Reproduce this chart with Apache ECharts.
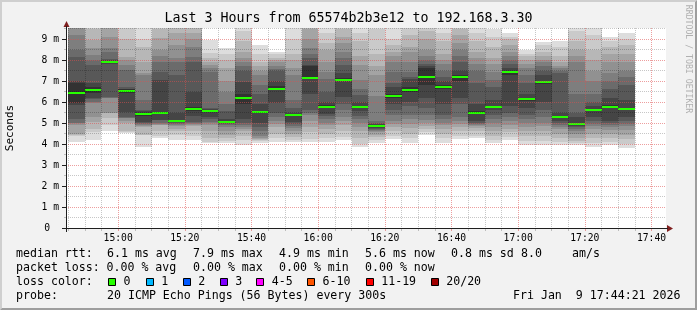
<!DOCTYPE html>
<html><head><meta charset="utf-8">
<script src="https://cdn.jsdelivr.net/npm/echarts@6/dist/echarts.min.js"></script>
<style>html,body{margin:0;padding:0;background:#f2f2f2}#c{width:697px;height:310px}</style>
</head><body><div id="c"></div>
<script>
// ---------- data ----------
const titleText = 'Last 3 Hours from 65574b2b3e12 to 192.168.3.30';
const axisStart = '14:44:21';
const axisEnd = '17:44:21';
const yMax = 9.524; // ms at top of plot
const columnStarts = ['14:45','14:50','14:55','15:00','15:05','15:10','15:15','15:20','15:25','15:30','15:35','15:40',
  '15:45','15:50','15:55','16:00','16:05','16:10','16:15','16:20','16:25','16:30','16:35','16:40','16:45','16:50',
  '16:55','17:00','17:05','17:10','17:15','17:20','17:25','17:30'];
const columnMinutes = 5;
const medianMs = [6.44, 6.59, 7.92, 6.54, 5.43, 5.49, 5.11, 5.68, 5.59, 5.05, 6.2, 5.52, 6.63, 5.38, 7.16, 5.76, 7.05,
  5.78, 4.87, 6.3, 6.59, 7.2, 6.73, 7.2, 5.49, 5.78, 7.41, 6.13, 6.94, 5.3, 4.95, 5.6, 5.78, 5.65];
// 20 sorted ping times (ms) per 5-minute step
const pingMs = [
  [4.11,4.4,4.45,4.5,4.9,4.98,5.0,5.2,5.85,5.94,6.89,7.0,8.16,8.5,9.2,9.6,9.8,10.0,10.3,10.5],
  [4.19,4.59,4.7,5.06,5.3,5.94,6.0,6.12,6.2,6.45,6.7,6.89,7.76,8.0,8.24,8.55,8.95,9.5,9.7,10.5],
  [4.62,4.9,5.22,5.46,5.5,6.17,6.2,6.25,7.8,7.88,7.96,8.0,8.05,8.4,8.55,9.1,9.6,9.8,10.0,10.5],
  [4.51,4.59,4.6,4.98,5.1,5.22,5.25,5.3,5.54,6.45,6.6,6.62,6.7,7.52,7.76,8.0,8.16,9.0,9.8,10.5],
  [3.87,4.43,4.45,4.82,4.88,4.92,4.95,5.0,5.05,5.35,5.5,5.55,5.6,6.1,7.29,7.4,7.92,8.6,9.0,9.7],
  [4.27,4.4,4.6,4.9,4.92,4.95,5.0,5.13,5.15,5.45,5.5,7.05,7.44,7.92,8.2,8.48,9.03,9.5,9.8,10.5],
  [4.19,4.43,4.6,4.7,4.85,4.9,4.95,5.0,5.05,5.1,5.15,5.5,7.3,7.9,8.1,8.7,9.3,9.6,9.8,10.5],
  [4.19,4.4,4.6,4.85,4.9,4.95,5.0,5.05,5.35,5.55,5.75,6.5,7.92,8.16,8.6,9.0,9.3,9.6,9.8,10.5],
  [4.03,4.1,4.3,4.6,4.9,5.0,5.06,5.2,5.3,5.55,5.62,5.65,5.7,7.44,7.6,7.75,7.92,8.1,8.32,8.95],
  [4.05,4.15,4.3,4.45,4.6,4.8,4.9,4.95,5.0,5.03,5.08,5.2,5.55,5.9,6.5,7.0,7.6,8.0,8.3,8.57],
  [3.95,4.2,4.4,4.6,4.7,4.8,4.9,5.0,5.2,5.9,6.4,6.95,7.5,7.7,7.9,8.1,8.4,8.9,9.4,9.9],
  [4.05,4.15,4.2,4.25,4.3,4.4,4.6,4.8,5.0,5.48,5.56,5.9,6.4,6.8,7.3,7.5,7.7,7.92,8.3,8.7],
  [4.08,4.3,4.5,4.8,4.95,5.1,5.3,5.5,5.95,6.55,6.75,7.0,7.5,7.55,7.7,7.9,8.0,8.1,8.3,8.4],
  [4.11,4.2,4.35,4.5,4.6,4.75,4.85,4.95,5.05,5.35,5.42,5.5,5.7,6.1,7.3,7.6,8.0,8.3,9.0,9.7],
  [4.1,4.25,4.55,4.8,5.1,5.4,5.5,5.6,6.4,7.1,7.7,7.75,8.1,8.3,8.55,9.0,9.5,9.7,9.9,10.5],
  [4.1,4.3,4.5,4.7,4.9,5.0,5.2,5.35,5.45,5.7,5.85,6.0,6.5,7.1,7.44,7.9,8.5,8.8,9.3,9.7],
  [4.19,4.35,4.6,4.9,5.1,5.3,5.6,5.9,6.25,7.0,7.15,7.4,7.76,8.1,8.4,8.8,9.1,9.5,9.8,10.5],
  [3.85,4.0,4.3,4.6,4.8,5.0,5.2,5.35,5.55,5.75,5.82,6.0,6.33,6.6,7.05,7.76,8.2,8.9,9.3,9.8],
  [4.05,4.2,4.35,4.45,4.55,4.6,4.65,4.7,4.75,4.85,4.9,4.95,5.0,5.1,6.3,7.3,7.7,8.3,9.5,9.8],
  [4.25,4.4,4.6,4.8,4.95,5.1,5.4,5.6,5.9,6.2,6.4,6.7,6.9,7.44,7.9,8.2,8.4,8.7,9.0,9.6],
  [4.05,4.3,4.5,4.75,4.95,5.2,5.4,5.8,6.0,6.5,6.7,7.1,7.2,7.44,7.9,8.4,8.6,9.2,9.6,10.0],
  [4.43,4.55,4.7,4.85,5.0,5.15,5.4,5.7,6.2,6.8,7.6,7.7,7.8,8.0,8.2,8.5,9.0,9.4,9.8,10.5],
  [4.05,4.3,4.5,4.7,4.9,5.0,5.2,5.4,5.9,6.6,6.8,7.0,7.2,7.5,7.8,8.0,8.3,8.9,9.3,9.6],
  [4.25,4.4,4.6,4.8,4.95,5.1,5.3,5.9,6.2,7.0,7.3,7.5,7.9,8.2,8.5,8.8,9.2,9.5,9.8,10.5],
  [4.3,4.4,4.6,4.75,4.85,4.9,4.95,5.0,5.1,5.45,5.55,5.9,6.9,7.5,7.8,8.1,8.4,8.9,9.3,9.7],
  [4.05,4.2,4.4,4.6,4.8,5.0,5.2,5.4,5.6,5.75,5.82,6.1,6.7,7.05,7.44,7.8,8.1,8.6,9.1,9.5],
  [4.2,4.35,4.55,4.7,4.9,5.1,5.3,5.5,5.8,7.3,7.5,7.6,7.8,8.0,8.2,8.4,8.7,9.0,9.1,9.3],
  [3.95,4.15,4.4,4.6,4.8,5.0,5.2,5.4,5.7,6.05,6.2,6.4,6.9,7.3,7.6,7.8,8.0,8.2,8.3,8.48],
  [3.95,4.15,4.4,4.6,4.85,5.0,5.3,5.6,6.0,6.85,7.0,7.3,7.5,7.7,7.9,8.0,8.2,8.4,8.7,8.85],
  [3.95,4.1,4.3,4.5,4.7,4.8,4.9,5.0,5.1,5.25,5.35,5.5,7.4,7.5,7.6,7.7,7.9,8.2,8.6,8.9],
  [3.95,4.05,4.15,4.3,4.5,4.6,4.7,4.8,4.85,4.9,5.0,5.3,5.5,6.4,7.9,8.2,8.5,8.9,9.4,9.7],
  [3.85,4.05,4.3,4.5,4.7,4.85,4.95,5.1,5.3,5.55,5.65,5.8,6.0,6.4,7.0,7.5,8.0,8.5,9.2,9.6],
  [3.95,4.1,4.3,4.5,4.65,4.8,4.9,5.0,5.1,5.7,5.85,6.2,6.6,7.0,7.4,7.9,8.3,8.6,8.9,9.1],
  [3.82,4.0,4.25,4.45,4.65,4.85,4.95,5.1,5.3,5.6,5.7,6.1,6.8,7.2,7.5,7.9,8.3,8.7,9.0,9.3]
];
const xLabels = ['15:00','15:20','15:40','16:00','16:20','16:40','17:00','17:20','17:40'];
const yLabels = [0,1,2,3,4,5,6,7,8,9];
const smokeShades = ['#dddddd','#cacaca','#b7b7b7','#a4a4a4','#919191','#7e7e7e','#6b6b6b','#585858','#454545','#323232'];
const medianColor = '#26ff00';
const lossLabels = ['0','1','2','3','4-5','6-10','11-19','20/20'];
const lossColors = ['#26ff00','#00b8ff','#0059ff','#7e00ff','#ff00ff','#ff5500','#ff0000','#a10000'];
const legendLabels = ['median rtt:', 'packet loss:', 'loss color:', 'probe:'];
const rttItems = ['6.1 ms avg', '7.9 ms max', '4.9 ms min', '5.6 ms now', '0.8 ms sd', '8.0', 'am/s'];
const lossItems = ['0.00 % avg', '0.00 % max', '0.00 % min', '0.00 % now'];
const probeText = '20 ICMP Echo Pings (56 Bytes) every 300s';
const dateText = 'Fri Jan  9 17:44:21 2026';

// ---------- helpers / layout ----------
const FONT = '"DejaVu Sans Mono", monospace';
const toMin = s => { const p = s.split(':').map(Number); return p[0]*60 + p[1] + (p[2]||0)/60; };
const fmt = v => { const h = Math.floor(v/60), m = Math.round(v - h*60); return h + ':' + String(m).padStart(2,'0'); };
const xMin = toMin(axisStart), xMax = toMin(axisEnd);
const majorX = xLabels.map(toMin);
const minorX = [];
for (let t = toMin(columnStarts[0]); t <= xMax; t += columnMinutes) if (!majorX.includes(t)) minorX.push(t);
const majorY = yLabels.filter(v => v > 0);
const minorY = yLabels.map(v => v + 0.5).filter(v => v < yMax);

const GRID_MINOR = 'rgba(0,0,0,0.22)';
const GRID_MAJOR = 'rgba(222,79,79,0.55)';

function colPx(api, i) {
  const s = toMin(columnStarts[i]);
  const a = api.coord([Math.max(s, xMin), 0])[0];
  const b = api.coord([Math.min(s + columnMinutes, xMax), 0])[0];
  return [Math.round(a), Math.round(b)];
}
function renderSmoke(params, api) {
  const i = api.value(1);
  const [x0, x1] = colPx(api, i);
  const p = pingMs[i];
  const children = [];
  for (let k = 0; k < 10; k++) {
    const lo = Math.min(p[k], yMax), hi = Math.min(p[19 - k], yMax);
    const yl = Math.round(api.coord([xMin, lo])[1]);
    const yh = Math.round(api.coord([xMin, hi])[1]);
    children.push({ type: 'rect', shape: { x: x0, y: yh, width: x1 - x0, height: yl - yh },
      style: { fill: smokeShades[k] } });
  }
  return { type: 'group', children };
}
function renderMedian(params, api) {
  const i = api.value(1);
  const [x0, x1] = colPx(api, i);
  const y = Math.round(api.coord([xMin, medianMs[i]])[1]);
  return { type: 'rect', shape: { x: x0, y: y - 1, width: x1 - x0, height: 2 }, style: { fill: medianColor } };
}

// ---------- graphics (frame, text) ----------
const graphics = [];
graphics.push({ type: 'polygon', silent: true, shape: { points: [[0,0],[697,0],[695,2],[2,2],[2,308],[0,310]] }, style: { fill: '#cfcfcf' } });
graphics.push({ type: 'polygon', silent: true, shape: { points: [[697,0],[697,310],[0,310],[2,308],[695,308],[695,2]] }, style: { fill: '#9e9e9e' } });
graphics.push({ type: 'polygon', silent: true, z: 20, shape: { points: [[667,225],[673,228.5],[667,232]] }, style: { fill: '#801f1f' } });
graphics.push({ type: 'polygon', silent: true, z: 20, shape: { points: [[63.5,27],[66.5,21],[69.5,27]] }, style: { fill: '#801f1f' } });
graphics.push({ type: 'line', silent: true, z: 20, shape: { x1: 66.5, y1: 232, x2: 66.5, y2: 26 }, style: { stroke: '#1f1f1f', lineWidth: 1 } });
graphics.push({ type: 'line', silent: true, z: 20, shape: { x1: 62, y1: 228.5, x2: 668, y2: 228.5 }, style: { stroke: '#1f1f1f', lineWidth: 1 } });
graphics.push({ type: 'text', silent: true, x: 10, y: 128, rotation: Math.PI/2,
  style: { text: 'Seconds', font: '11px ' + FONT, fill: '#000', align: 'center', verticalAlign: 'middle' } });
graphics.push({ type: 'text', silent: true, x: 688, y: 59, rotation: -Math.PI/2,
  style: { text: 'RRDTOOL / TOBI OETIKER', font: '8.2px ' + FONT, fill: '#b0b0b0', align: 'center', verticalAlign: 'middle' } });

const rowY = [254.3, 268.3, 282.3, 296.3];
const LF = '11.6px ' + FONT;
const txt = (s, x, y, align) => ({ type: 'text', silent: true, x, y,
  style: { text: s, font: LF, fill: '#000', verticalAlign: 'middle', align: align || 'left' } });
legendLabels.forEach((s, j) => graphics.push(txt(s, 16, rowY[j])));
const rttX = [107, 193, 279, 365, 451, 521, 572];
rttItems.forEach((s, j) => graphics.push(txt(s, rttX[j], rowY[0])));
const lossX = [106.5, 193, 279, 365];
lossItems.forEach((s, j) => graphics.push(txt(s, lossX[j], rowY[1])));
graphics.push(txt(probeText, 107, rowY[3]));
graphics.push(txt(dateText, 680.5, rowY[3], 'right'));
const squareX = [108, 145.7, 182.7, 219.7, 256.3, 307, 365.7, 430.7];
lossLabels.forEach((lab, j) => {
  graphics.push({ type: 'rect', silent: true, shape: { x: Math.round(squareX[j]) + 0.5, y: 278.5, width: 7, height: 7 },
    style: { fill: lossColors[j], stroke: '#000', lineWidth: 1 } });
  graphics.push(txt(lab, squareX[j] + 15.5, rowY[2]));
});

const hiddenAxisBase = { axisLine: { show: false }, axisLabel: { show: false } };

const option = {
  backgroundColor: '#f2f2f2',
  animation: false,
  title: { text: titleText, left: 'center', top: 12, padding: 0,
    textStyle: { fontFamily: FONT, fontSize: 13.3, fontWeight: 'normal', color: '#000' } },
  grid: { left: 66, top: 28, width: 600, height: 200, show: true, backgroundColor: '#ffffff', borderWidth: 0 },
  xAxis: [
    { type: 'value', min: xMin, max: xMax, position: 'bottom', z: 10,
      axisLine: { show: false }, axisTick: { show: false }, splitLine: { show: false },
      axisLabel: { customValues: majorX, formatter: fmt, margin: 5, fontFamily: FONT, fontSize: 9.7, color: '#000' } },
    Object.assign({ type: 'value', min: xMin, max: xMax, position: 'bottom', z: 9,
      axisTick: { show: true, customValues: minorX, length: 3, lineStyle: { color: GRID_MINOR } },
      splitLine: { show: true, lineStyle: { color: GRID_MINOR, width: 1, type: [1, 1] } } }, hiddenAxisBase),
    Object.assign({ type: 'value', min: xMin, max: xMax, position: 'bottom', z: 9,
      axisTick: { show: true, customValues: majorX, length: 3, lineStyle: { color: GRID_MAJOR } },
      splitLine: { show: true, lineStyle: { color: GRID_MAJOR, width: 1, type: [1, 1] } } }, hiddenAxisBase)
  ],
  yAxis: [
    { type: 'value', min: 0, max: yMax, position: 'left', z: 10,
      axisLine: { show: false }, splitLine: { show: false },
      axisTick: { show: true, customValues: yLabels, length: 4, lineStyle: { color: '#1f1f1f' } },
      axisLabel: { customValues: yLabels, margin: 7, fontFamily: FONT, fontSize: 9.7, color: '#000',
        formatter: v => v === 0 ? '{z|0}' : v + ' m',
        rich: { z: { fontFamily: FONT, fontSize: 9.7, color: '#000', padding: [0, 9, 0, 0] } } } },
    Object.assign({ type: 'value', min: 0, max: yMax, position: 'left', z: 9,
      axisTick: { show: true, customValues: minorY, length: 2, lineStyle: { color: GRID_MINOR } },
      splitLine: { show: true, lineStyle: { color: GRID_MINOR, width: 1, type: [1, 1] } } }, hiddenAxisBase),
    Object.assign({ type: 'value', min: 0, max: yMax, position: 'left', z: 9,
      axisTick: { show: false, customValues: majorY },
      splitLine: { show: true, lineStyle: { color: GRID_MAJOR, width: 1, type: [1, 1] } } }, hiddenAxisBase)
  ],
  graphic: graphics,
  series: [
    { type: 'custom', name: 'smoke', xAxisIndex: 0, yAxisIndex: 0, z: 2, silent: true,
      renderItem: renderSmoke, data: columnStarts.map((s, i) => [toMin(s), i]) },
    { type: 'custom', name: 'median', xAxisIndex: 0, yAxisIndex: 0, z: 3, silent: true,
      renderItem: renderMedian, data: columnStarts.map((s, i) => [toMin(s), i]) }
  ]
};
const chart = echarts.init(document.getElementById('c'), null, { renderer: 'canvas', width: 697, height: 310 });
chart.setOption(option);
</script>
</body></html>
